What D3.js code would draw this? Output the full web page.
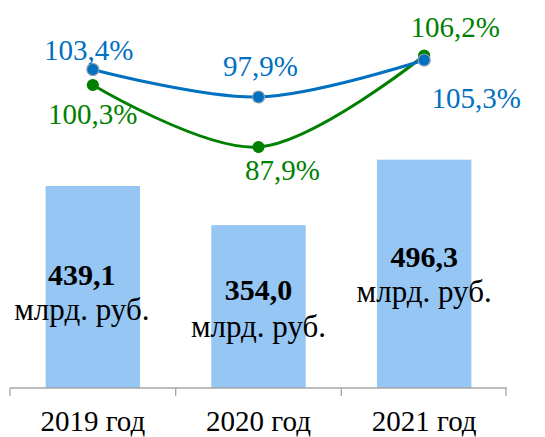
<!DOCTYPE html>
<html>
<head>
<meta charset="utf-8">
<script src="https://cdn.jsdelivr.net/npm/d3@7"></script>
<style>
  body { margin: 0; background: #fff; }
</style>
</head>
<body>
<div id="chart"></div>
<script>
var width = 545, height = 437;
var serif = "'Liberation Serif', 'DejaVu Serif', serif";

// data
var years = ["2019 год", "2020 год", "2021 год"];
var amounts = [439.1, 354.0, 496.3];          // млрд. руб.
var blueIdx = [103.4, 97.9, 105.3];           // %
var greenIdx = [100.3, 87.9, 106.2];          // %

var fmt = function(v){ return d3.format(".1f")(v).replace(".", ","); };

// label offsets from the marker (dx, dy)
var blueOff = [[-4, -10], [2, -21], [52, 48]];
var greenOff = [[0, 39], [24, 33], [31, -19]];

var svg = d3.select("#chart")
  .append("svg")
  .attr("width", width)
  .attr("height", height)
  .style("font-family", serif);

var x = d3.scaleBand()
  .domain(years)
  .range([10, 507])
  .paddingInner(0.43)
  .paddingOuter(0.215);

var y = d3.scaleLinear().domain([0, 600]).range([388, 112]);
var y2 = d3.scaleLinear().domain([80, 110]).range([186.5, 36.5]);

var cx = function(i){ return x(years[i]) + x.bandwidth() / 2; };

// bars
svg.append("g")
  .selectAll("rect")
  .data(amounts)
  .enter()
  .append("rect")
  .attr("x", (d, i) => x(years[i]))
  .attr("y", d => y(d))
  .attr("width", x.bandwidth())
  .attr("height", d => y(0) - y(d))
  .attr("fill", "#95C6F4");

// axis line + ticks between categories
var axisG = svg.append("g");
axisG.append("line")
  .attr("x1", 10).attr("x2", 507)
  .attr("y1", y(0)).attr("y2", y(0))
  .attr("stroke", "#A6A6A6").attr("stroke-width", 1.3);
var step = x.step();
axisG.selectAll("line.tk")
  .data(d3.range(years.length + 1))
  .enter()
  .append("line")
  .attr("class", "tk")
  .attr("x1", i => 10 + i * step - (i == years.length ? 1 : 0))
  .attr("x2", i => 10 + i * step - (i == years.length ? 1 : 0))
  .attr("y1", y(0)).attr("y2", y(0) + 8)
  .attr("stroke", "#A6A6A6").attr("stroke-width", 1.3);

axisG.selectAll("text")
  .data(years)
  .enter()
  .append("text")
  .attr("x", d => x(d) + x.bandwidth() / 2)
  .attr("y", 431)
  .attr("text-anchor", "middle")
  .attr("font-family", serif)
  .attr("font-size", 29)
  .attr("fill", "#000")
  .text(d => d);

// bar labels
var barLab = [[-11, 285, 320], [0, 300, 337], [0, 267, 302]];
var bl = svg.append("g").selectAll("g")
  .data(amounts)
  .enter()
  .append("g");
bl.append("text")
  .attr("x", (d, i) => cx(i) + barLab[i][0])
  .attr("y", (d, i) => barLab[i][1])
  .attr("text-anchor", "middle")
  .attr("font-family", serif)
  .attr("font-size", 30)
  .attr("font-weight", "bold")
  .text(d => fmt(d));
bl.append("text")
  .attr("x", (d, i) => cx(i) + barLab[i][0])
  .attr("y", (d, i) => barLab[i][2])
  .attr("text-anchor", "middle")
  .attr("font-family", serif)
  .attr("font-size", 31)
  .text("млрд. руб.");

// lines
var line = d3.line()
  .x((d, i) => cx(i))
  .y(d => y2(d))
  .curve(d3.curveCatmullRom);

function drawSeries(vals, color, r, stroke) {
  var g = svg.append("g");
  g.append("path")
    .datum(vals)
    .attr("d", line)
    .attr("fill", "none")
    .attr("stroke", color)
    .attr("stroke-width", 3);
  g.selectAll("circle")
    .data(vals)
    .enter()
    .append("circle")
    .attr("cx", (d, i) => cx(i))
    .attr("cy", d => y2(d))
    .attr("r", r)
    .attr("fill", color)
    .attr("stroke", stroke)
    .attr("stroke-width", 1.2);
  return g;
}

function drawLabels(vals, color, off) {
  svg.append("g").selectAll("text")
    .data(vals)
    .enter()
    .append("text")
    .attr("x", (d, i) => cx(i) + off[i][0])
    .attr("y", (d, i) => y2(d) + off[i][1])
    .attr("text-anchor", "middle")
    .attr("font-family", serif)
    .attr("font-size", 29)
    .attr("fill", color)
    .text(d => fmt(d) + "%");
}

drawSeries(greenIdx, "#008000", 5.5, "#008000");
drawSeries(blueIdx, "#0070C0", 6, "#8C9BB0");
drawLabels(blueIdx, "#0070C0", blueOff);
drawLabels(greenIdx, "#008000", greenOff);
</script>
</body>
</html>
